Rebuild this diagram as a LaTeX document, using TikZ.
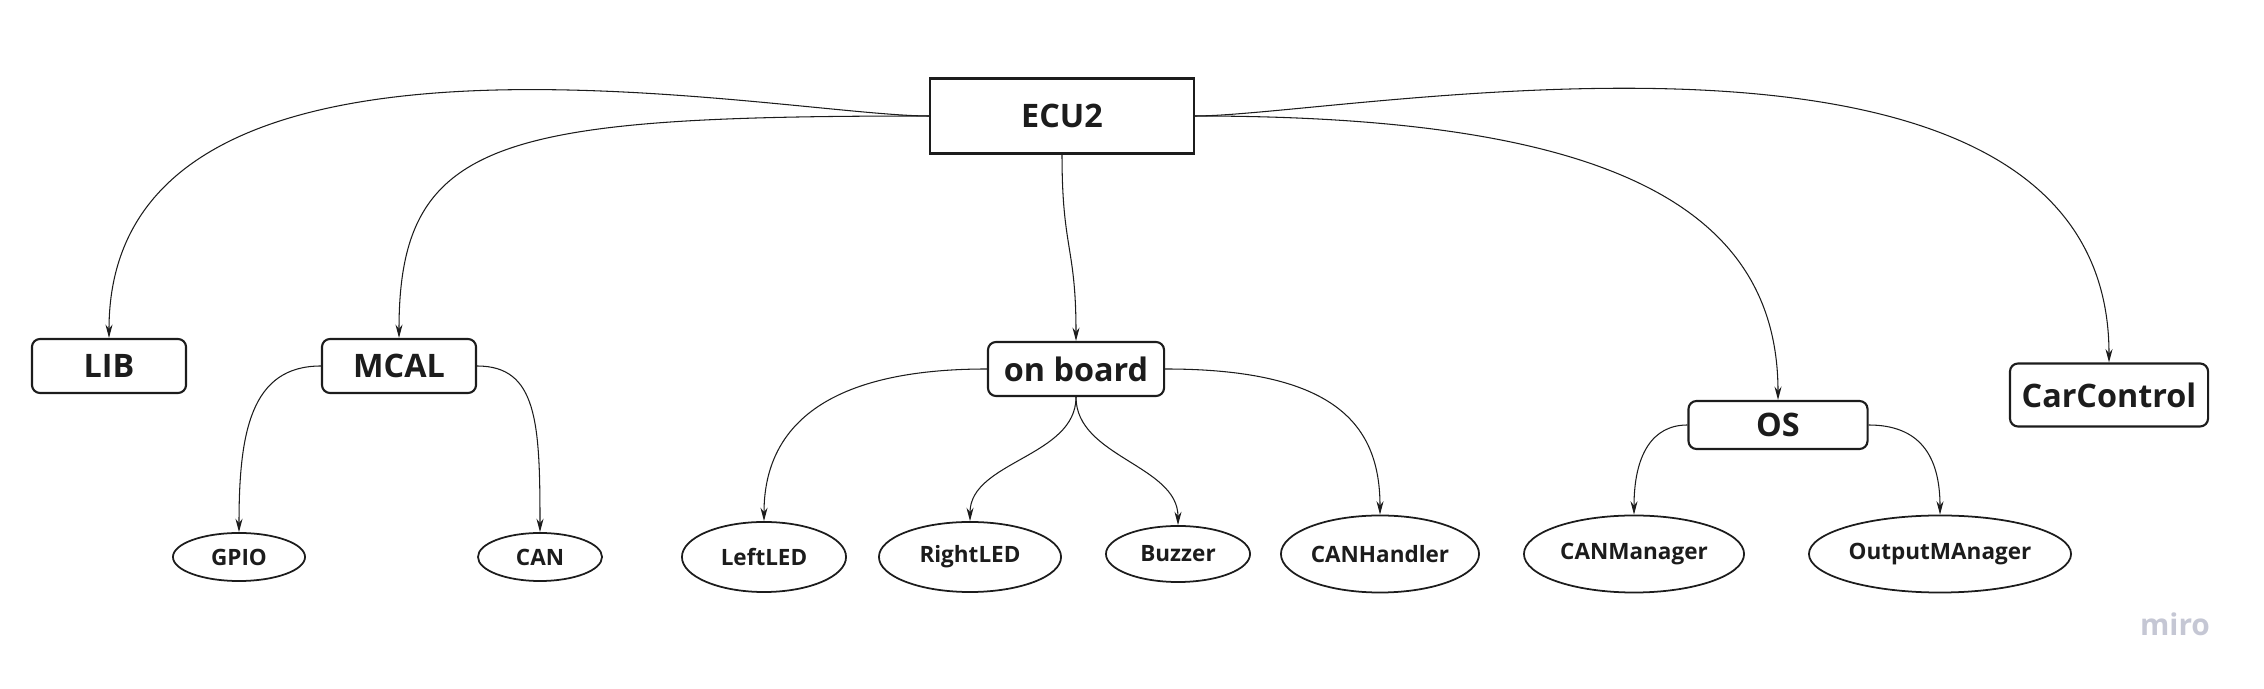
\documentclass[tikz,border=0pt]{standalone}
\usepackage{fontspec}
\setmainfont{Open Sans}
\definecolor{edge}{RGB}{28, 28, 28}
\definecolor{logo}{RGB}{197, 199, 212}
\usepackage{tikz}
\usetikzlibrary{shapes.geometric, arrows.meta}
\tikzset{
    block/.style={rectangle, rounded corners=2.3pt, draw=edge, line width=0.6pt, inner sep=0pt, align=center, text=edge, font=\fontsize{9.2}{11}\selectfont\bfseries},
    topblock/.style={block, rounded corners=0pt},
    leaf/.style={ellipse, draw=edge, line width=0.5pt, inner sep=0pt, align=center, text=edge, font=\fontsize{6.4}{8}\selectfont\bfseries},
    arrow/.style={line width=0.3pt, -{Stealth[length=3.8pt, width=2pt]}, edge}
}
\begin{document}
\begin{tikzpicture}[x=0.01cm, y=-0.01cm]
                \useasboundingbox (0,0) rectangle (2264,689);
                \node[topblock, minimum width=2.64cm, minimum height=0.75cm] (ecu) at (1062, 116) {ECU2};
                \node[block, minimum width=1.54cm, minimum height=0.54cm] (lib) at (109, 366) {LIB};
                \node[block, minimum width=1.54cm, minimum height=0.54cm] (mcal) at (399, 366) {MCAL};
                \node[block, minimum width=1.76cm, minimum height=0.54cm] (board) at (1076, 369) {on board};
                \node[block, minimum width=1.79cm, minimum height=0.48cm] (os) at (1778, 425) {OS};
                \node[block, minimum width=1.98cm, minimum height=0.63cm] (car) at (2109, 395) {CarControl};
                \node[leaf, minimum width=1.32cm, minimum height=0.48cm] (gpio) at (239, 557) {GPIO};
                \node[leaf, minimum width=1.24cm, minimum height=0.48cm] (can) at (540, 557) {CAN};
                \node[leaf, minimum width=1.64cm, minimum height=0.70cm] (leftled) at (764, 557) {LeftLED};
                \node[leaf, minimum width=1.82cm, minimum height=0.70cm] (rightled) at (970, 557) {RightLED};
                \node[leaf, minimum width=1.44cm, minimum height=0.56cm] (buzzer) at (1178, 554) {Buzzer};
                \node[leaf, minimum width=1.98cm, minimum height=0.77cm] (canhandler) at (1380, 554) {CANHandler};
                \node[leaf, minimum width=2.20cm, minimum height=0.77cm] (canmanager) at (1634, 554) {CANManager};
                \node[leaf, minimum width=2.62cm, minimum height=0.77cm] (outmanager) at (1940, 554) {OutputMAnager};
                \node[text=logo, font=\fontsize{8.5}{10}\selectfont\bfseries] (miro) at (2175, 624) {miro};
                % ECU2 to its parts
                \draw[arrow] (ecu.west) .. controls +(-150,0) and +(0,-359) .. (lib.north);
                \draw[arrow] (ecu.west) .. controls +(-430,0) and +(0,-200) .. (mcal.north);
                \draw[arrow] (ecu.south) .. controls +(0,95) and +(0,-95) .. (board.north);
                \draw[arrow] (ecu.east) .. controls +(400,0) and +(0,-200) .. (os.north);
                \draw[arrow] (ecu.east) .. controls +(150,0) and +(0,-394) .. (car.north);
                % second level
                \draw[arrow] (mcal.west) .. controls +(-70,0) and +(0,-100) .. (gpio.north);
                \draw[arrow] (mcal.east) .. controls +(60,0) and +(0,-110) .. (can.north);
                \draw[arrow] (board.west) .. controls +(-180,0) and +(0,-80) .. (leftled.north);
                \draw[arrow] (board.south) .. controls +(0,60) and +(0,-60) .. (rightled.north);
                \draw[arrow] (board.south) .. controls +(0,60) and +(0,-60) .. (buzzer.north);
                \draw[arrow] (board.east) .. controls +(170,0) and +(0,-90) .. (canhandler.north);
                \draw[arrow] (os.west) .. controls +(-35,0) and +(0,-60) .. (canmanager.north);
                \draw[arrow] (os.east) .. controls +(50,0) and +(0,-60) .. (outmanager.north);
            \end{tikzpicture}
\end{document}
